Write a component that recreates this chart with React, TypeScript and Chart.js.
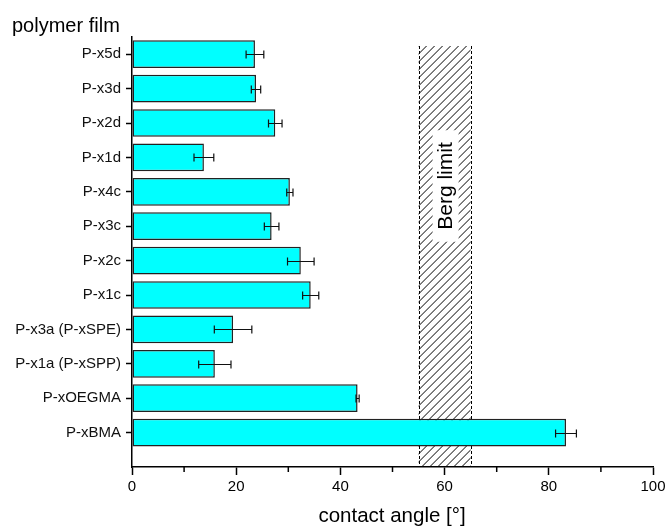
import React, { useEffect, useRef } from "react";
import { Chart, registerables } from "chart.js";

Chart.register(...registerables);

const categories = [
  "P-x5d",
  "P-x3d",
  "P-x2d",
  "P-x1d",
  "P-x4c",
  "P-x3c",
  "P-x2c",
  "P-x1c",
  "P-x3a (P-xSPE)",
  "P-x1a (P-xSPP)",
  "P-xOEGMA",
  "P-xBMA",
];
const contactAngle = [23.6, 23.8, 27.5, 13.8, 30.3, 26.8, 32.4, 34.3, 19.4, 15.9, 43.3, 83.3];
const contactAngleErr = [1.7, 0.9, 1.3, 1.9, 0.6, 1.4, 2.55, 1.55, 3.6, 3.1, 0.3, 2.0];
const bergLimit = [55, 65];
const bergLabel = "Berg limit";
const yTitle = "polymer film";
const xTitle = "contact angle [°]";
const xMajorTicks = [0, 20, 40, 60, 80, 100];
const xMinorTicks = [10, 30, 50, 70, 90];

const FONT = "'Liberation Sans', Arial, sans-serif";

const decorPlugin = {
  id: "decor",
  beforeDatasetsDraw(chart: any) {
    const { ctx, chartArea, scales } = chart;
    const x = scales.x;
    const x0 = x.getPixelForValue(bergLimit[0]);
    const x1 = x.getPixelForValue(bergLimit[1]);
    const top = chartArea.top + 9;
    const bottom = chartArea.bottom;
    ctx.save();
    ctx.beginPath();
    ctx.rect(x0, top, x1 - x0, bottom - top);
    ctx.clip();
    ctx.strokeStyle = "#000";
    ctx.lineWidth = 1;
    const h = bottom - top;
    const step = 8;
    for (let s = x0 - h; s < x1 + 10; s += step) {
      ctx.beginPath();
      ctx.moveTo(s, bottom);
      ctx.lineTo(s + h, top);
      ctx.stroke();
    }
    ctx.restore();
    ctx.save();
    ctx.strokeStyle = "#000";
    ctx.lineWidth = 1;
    ctx.setLineDash([3, 2]);
    [x0, x1].forEach((px) => {
      ctx.beginPath();
      ctx.moveTo(Math.round(px) + 0.5, top);
      ctx.lineTo(Math.round(px) + 0.5, bottom);
      ctx.stroke();
    });
    ctx.restore();
  },
  afterDatasetsDraw(chart: any) {
    const { ctx, chartArea, scales } = chart;
    const x = scales.x;
    const y = scales.y;
    // error bars
    ctx.save();
    ctx.strokeStyle = "#111";
    ctx.lineWidth = 1.2;
    contactAngle.forEach((v, i) => {
      const e = contactAngleErr[i];
      const py = Math.round(y.getPixelForValue(i)) + 0.5;
      const xa = x.getPixelForValue(v - e);
      const xb = x.getPixelForValue(v + e);
      ctx.beginPath();
      ctx.moveTo(xa, py);
      ctx.lineTo(xb, py);
      ctx.moveTo(xa, py - 4);
      ctx.lineTo(xa, py + 4);
      ctx.moveTo(xb, py - 4);
      ctx.lineTo(xb, py + 4);
      ctx.stroke();
    });
    ctx.restore();

    // Berg label
    const cx = (x.getPixelForValue(bergLimit[0]) + x.getPixelForValue(bergLimit[1])) / 2;
    const cy = 186;
    ctx.save();
    ctx.translate(cx + 1, cy);
    ctx.rotate(-Math.PI / 2);
    ctx.font = `21px ${FONT}`;
    const w = ctx.measureText(bergLabel).width;
    ctx.fillStyle = "#fff";
    ctx.fillRect(-w / 2 - 12, -13, w + 24, 26);
    ctx.fillStyle = "#000";
    ctx.textAlign = "center";
    ctx.textBaseline = "middle";
    ctx.fillText(bergLabel, 0, 1);
    ctx.restore();

    // minor x ticks
    ctx.save();
    ctx.strokeStyle = "#000";
    ctx.lineWidth = 1.5;
    xMinorTicks.forEach((t) => {
      const px = x.getPixelForValue(t);
      ctx.beginPath();
      ctx.moveTo(px, chartArea.bottom);
      ctx.lineTo(px, chartArea.bottom + 5);
      ctx.stroke();
    });
    ctx.restore();

    // titles
    ctx.save();
    ctx.fillStyle = "#000";
    ctx.font = `20px ${FONT}`;
    ctx.textBaseline = "middle";
    ctx.textAlign = "left";
    ctx.fillText(yTitle, 12, 26);
    ctx.textAlign = "center";
    ctx.font = `20.5px ${FONT}`;
    ctx.fillText(xTitle, 392, 516);
    ctx.restore();
  },
};

export default function App() {
  const ref = useRef<HTMLCanvasElement>(null);
  useEffect(() => {
    if (!ref.current) return;
    const points = contactAngle.map((v, i) => ({ x: v, y: i }));
    const chart = new Chart(ref.current, {
      type: "bar",
      data: {
        datasets: [
          {
            data: points,
            backgroundColor: "#00FFFF",
            borderColor: "#222",
            borderWidth: 1.5,
            borderSkipped: false,
            barPercentage: 0.805,
            categoryPercentage: 1,
          },
        ],
      },
      options: {
        indexAxis: "y",
        animation: false,
        responsive: false,
        devicePixelRatio: 1,
        layout: { padding: { left: 0, right: 13, top: 37, bottom: 0 } },
        plugins: {
          legend: { display: false },
          tooltip: { enabled: false },
          title: { display: false },
        },
        scales: {
          x: {
            type: "linear",
            min: 0,
            max: 100,
            afterBuildTicks: (scale: any) => {
              scale.ticks = xMajorTicks.map((v) => ({ value: v }));
            },
            afterFit: (scale: any) => {
              scale.height = 60;
              scale.paddingLeft = 0;
              scale.paddingRight = 0;
            },
            border: { display: true, color: "#000", width: 1.5 },
            grid: {
              drawOnChartArea: false,
              drawTicks: true,
              tickLength: 8,
              tickColor: "#000",
              tickWidth: 1.5,
            },
            ticks: {
              color: "#000",
              font: { family: FONT, size: 15 },
              padding: 3,
              maxRotation: 0,
            },
          },
          y: {
            type: "linear",
            reverse: true,
            offset: false,
            min: -0.5,
            max: categories.length,
            afterBuildTicks: (scale: any) => {
              scale.ticks = categories.map((_, i) => ({ value: i }));
            },
            afterFit: (scale: any) => {
              scale.width = 132;
              scale.paddingTop = 0;
              scale.paddingBottom = 0;
            },
            border: { display: true, color: "#000", width: 1.5 },
            grid: {
              offset: false,
              drawOnChartArea: false,
              drawTicks: true,
              tickLength: 6,
              tickWidth: 1.5,
              tickColor: "#000",
            },
            ticks: {
              color: "#111",
              font: { family: FONT, size: 15 },
              padding: 5,
              autoSkip: false,
              callback: (v: any) => categories[v] ?? "",
            },
          },
        },
      },
      plugins: [decorPlugin],
    } as any);
    return () => chart.destroy();
  }, []);
  return (
    <div style={{ position: "fixed", left: 0, top: 0, width: 666, height: 527, background: "#fff" }}>
      <canvas ref={ref} width={666} height={527} style={{ width: 666, height: 527 }} />
    </div>
  );
}
